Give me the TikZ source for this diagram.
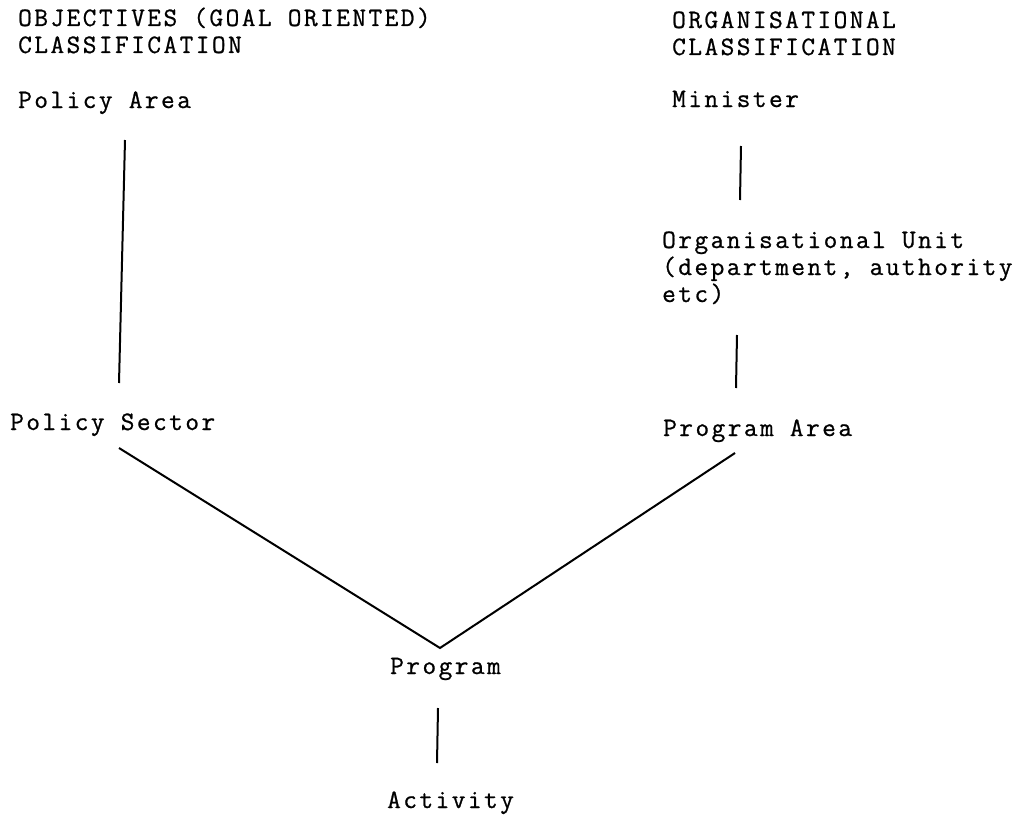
\documentclass[tikz,border=0pt]{standalone}
\usepackage{fontspec}
\setmonofont{Latin Modern Mono}[LetterSpace=9.2,FakeBold=0.8]
\begin{document}
\begin{tikzpicture}[x=1bp,y=-1bp,
  lbl/.style={anchor=base west,inner sep=0pt,align=left,
    font=\ttfamily\fontsize{26.6bp}{27bp}\selectfont},
  conn/.style={line width=2bp,black}]
\useasboundingbox (0,0) rectangle (1021,819);
% left column (multi-line nodes: base = last line)
\node[lbl] (objh) at (18,53) {OBJECTIVES (GOAL ORIENTED)\\CLASSIFICATION};
\node[lbl] (parea) at (18,108) {Policy Area};
\node[lbl] (psec) at (10,430) {Policy Sector};
% right column
\node[lbl] (orgh) at (672,55) {ORGANISATIONAL\\CLASSIFICATION};
\node[lbl] (min) at (672,107) {Minister};
\node[lbl] (unit) at (662,302) {Organisational Unit\\(department, authority\\etc)};
\node[lbl] (prarea) at (663,436) {Program Area};
% bottom
\node[lbl] (prog) at (390,674) {Program};
\node[lbl] (act) at (387,808) {Activity};
% connector ends
\coordinate (paB) at (125,140);
\coordinate (psT) at (119,383);
\coordinate (psB) at (119,448);
\coordinate (progT) at (440,648);
\coordinate (prareaB) at (735,453);
\coordinate (minB) at (741,146);
\coordinate (unitT) at (740,200);
\coordinate (unitB) at (737,335);
\coordinate (prareaT) at (736,388);
\coordinate (progB) at (438,708);
\coordinate (actT) at (437,763);
\draw[conn] (paB) -- (psT);
\draw[conn,line join=miter] (psB) -- (progT) -- (prareaB);
\draw[conn] (minB) -- (unitT);
\draw[conn] (unitB) -- (prareaT);
\draw[conn] (progB) -- (actT);
\end{tikzpicture}
\end{document}
